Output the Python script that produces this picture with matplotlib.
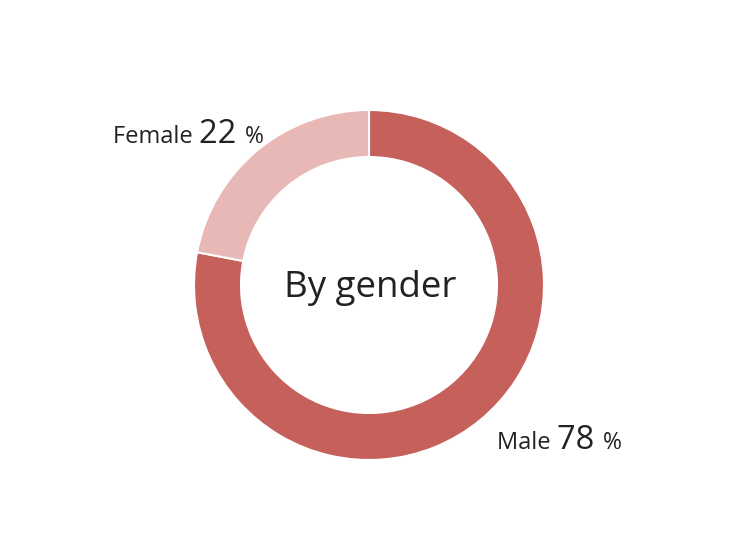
import matplotlib
matplotlib.use("Agg")
import matplotlib.pyplot as plt

# data
labels = ["Male", "Female"]
shares = [78, 22]
colors = ["#c6605a", "#e7b8b6"]
center_title = "By gender"

plt.rcParams['font.family'] = ['Open Sans', 'DejaVu Sans']
TXT = "#222222"

fig = plt.figure(figsize=(7.5, 5.5), dpi=100)
ax = fig.add_axes([0, 0, 1, 1])

cx, cy, r_out, ring = 369, 285, 175, 47
# y axis is inverted below, so start at -90 and go counterclockwise in data
# coords to get a clockwise ring from 12 o'clock on screen
ax.pie(shares, colors=colors, startangle=-90, counterclock=True,
       center=(cx, cy), radius=r_out,
       wedgeprops=dict(width=ring, edgecolor='white', linewidth=1.5))
ax.set_xlim(0, 750)
ax.set_ylim(550, 0)
ax.set_aspect('equal')
ax.axis('off')

ax.text(cx + 1, 297, center_title, fontsize=26.4, color=TXT, ha='center', va='baseline')


def label(x, y, name, value):
    # name + big number + small %, all on one baseline
    fig.canvas.draw()
    r = fig.canvas.get_renderer()
    t = ax.text(x, y, name + " ", fontsize=17, color=TXT, va='baseline')
    bb = t.get_window_extent(r)
    x2 = ax.transData.inverted().transform((bb.x1, 0))[0]
    t2 = ax.text(x2, y, f"{value} ", fontsize=23.5, color=TXT, va='baseline')
    bb2 = t2.get_window_extent(r)
    x3 = ax.transData.inverted().transform((bb2.x1, 0))[0]
    ax.text(x3, y, "%", fontsize=16.5, color=TXT, va='baseline')


label(113, 143, labels[1], shares[1])
label(497, 449, labels[0], shares[0])

fig.savefig("out.png", dpi=100)
